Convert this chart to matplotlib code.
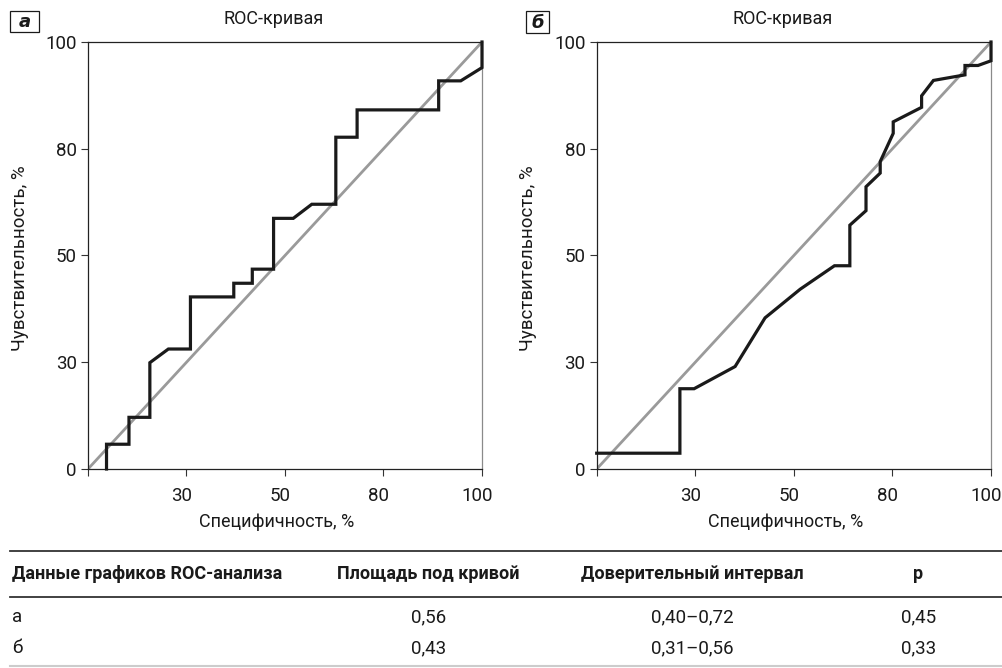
import matplotlib
matplotlib.use("Agg")
import matplotlib.pyplot as plt
from matplotlib.patches import Rectangle
from matplotlib.transforms import ScaledTranslation

plt.rcParams['font.family'] = ['Roboto', 'DejaVu Sans']

# ---- data (plot positions on 0..100 scale) ----
tick_pos = [0, 25, 50, 75, 100]
y_tick_labels = ['0', '30', '50', '80', '100']
x_tick_labels = ['', '30', '50', '80', '100']

spec_a = [4.7, 4.7, 10.4, 10.4, 15.7, 15.7, 20.4, 26.0, 26.0, 37.0, 37.0, 41.7, 41.7,
          47.1, 47.1, 52.1, 56.8, 62.9, 62.9, 68.3, 68.3, 89.0, 89.0, 94.6, 100.0, 100.0]
sens_a = [0.0, 5.8, 5.8, 12.1, 12.1, 24.9, 28.1, 28.1, 40.3, 40.3, 43.5, 43.5, 46.8,
          46.8, 58.7, 58.7, 62.0, 62.0, 77.7, 77.7, 84.1, 84.1, 90.9, 90.9, 94.0, 100.0]

spec_b = [0.0, 21.1, 21.1, 24.7, 35.1, 42.7, 51.6, 60.3, 64.2, 64.2, 68.3, 68.3, 71.9,
          71.9, 75.2, 75.2, 82.4, 82.4, 85.4, 93.4, 93.4, 96.7, 100.0, 100.0]
sens_b = [3.7, 3.7, 18.8, 18.8, 24.0, 35.4, 42.1, 47.6, 47.6, 57.1, 60.5, 66.1, 69.3,
          72.0, 78.6, 81.3, 84.7, 87.4, 91.0, 92.3, 94.5, 94.5, 95.6, 100.0]

diag = [0, 100]

panel_letters = ['а', 'б']
title_text = 'ROC-кривая'
xlabel_text = 'Специфичность, %'
ylabel_text = 'Чувствительность, %'

table_header = ['Данные графиков ROC-анализа', 'Площадь под кривой', 'Доверительный интервал', 'p']
table_rows = [['а', '0,56', '0,40–0,72', '0,45'],
              ['б', '0,43', '0,31–0,56', '0,33']]

W, H = 1003, 668
fig = plt.figure(figsize=(W / 100, H / 100), dpi=100)

def fx(px):
    return px / W

def fy(py):
    return 1 - py / H

panels = [
    dict(left=88, right=482, x=spec_a, y=sens_a, box=(10, 11, 39, 32), title_x=274, ylab_x=20, xlab_x=277),
    dict(left=596.7, right=991, x=spec_b, y=sens_b, box=(526, 11, 549, 33), title_x=783, ylab_x=528, xlab_x=786),
]
top, bottom = 42, 469

for i, p in enumerate(panels):
    ax = fig.add_axes([fx(p['left']), fy(bottom), (p['right'] - p['left']) / W, (bottom - top) / H])
    ax.plot(diag, diag, color='#9a9a9a', lw=2.0, solid_capstyle='butt', zorder=2)
    ax.plot(p['x'], p['y'], color='#1a1a1a', lw=2.3, solid_joinstyle='miter', zorder=3, clip_on=False)
    ax.set_xlim(0, 100)
    ax.set_ylim(0, 100)
    ax.set_xticks(tick_pos)
    ax.set_xticklabels(x_tick_labels)
    ax.set_yticks(tick_pos)
    ax.set_yticklabels(y_tick_labels)
    ax.tick_params(axis='both', direction='out', length=5, width=0.8, color='#333333',
                   labelsize=13.5, labelcolor='#1a1a1a', pad=3)
    ax.tick_params(axis='x', pad=8)
    shift = ScaledTranslation(-5 / 100, 0, fig.dpi_scale_trans)
    for lbl in ax.get_xticklabels():
        lbl.set_transform(lbl.get_transform() + shift)
    for s in ['left', 'top', 'bottom']:
        ax.spines[s].set_color('#222222')
        ax.spines[s].set_linewidth(0.9)
    ax.spines['right'].set_color('#8a8a8a')
    ax.spines['right'].set_linewidth(0.9)
    # title, axis labels
    fig.text(fx(p['title_x']), fy(19.5), title_text, ha='center', va='center', fontsize=13, color='#1a1a1a')
    fig.text(fx(p['xlab_x']), fy(522), xlabel_text, ha='center', va='center', fontsize=13, color='#1a1a1a')
    fig.text(fx(p['ylab_x']), fy(258), ylabel_text, ha='center', va='center', rotation=90,
             fontsize=13.5, color='#1a1a1a')
    # panel letter box
    x0, y0, x1, y1 = p['box']
    fig.patches.append(Rectangle((fx(x0), fy(y1)), (x1 - x0) / W, (y1 - y0) / H,
                                 transform=fig.transFigure, fill=False, edgecolor='#1a1a1a', lw=0.9))
    fig.text(fx((x0 + x1) / 2), fy((y0 + y1) / 2 + 0.5), panel_letters[i], ha='center', va='center',
             fontsize=13, fontweight='bold', fontstyle='italic', color='#1a1a1a',
             family=['DejaVu Sans'])

# ---- table ----
tax = fig.add_axes([0, 0, 1, 1], zorder=-1)
tax.set_xlim(0, W)
tax.set_ylim(H, 0)
tax.axis('off')

tax.plot([10, 1002], [551, 551], color='#333333', lw=1.3)
tax.plot([10, 1002], [597, 597], color='#333333', lw=1.3)
tax.plot([10, 1002], [666, 666], color='#cccccc', lw=1.5)

col_x = [12.5, 428.5, 692.5, 918.5]
col_ha = ['left', 'center', 'center', 'center']
for j, h in enumerate(table_header):
    tax.text(col_x[j], 574, h, ha=col_ha[j], va='center', fontsize=13, fontweight='bold', color='#1a1a1a')
row_y = [617, 648]
for r, row in enumerate(table_rows):
    for j, v in enumerate(row):
        tax.text(col_x[j], row_y[r], v, ha=col_ha[j], va='center', fontsize=13.5, color='#1a1a1a')

fig.savefig('out.png', dpi=100)
